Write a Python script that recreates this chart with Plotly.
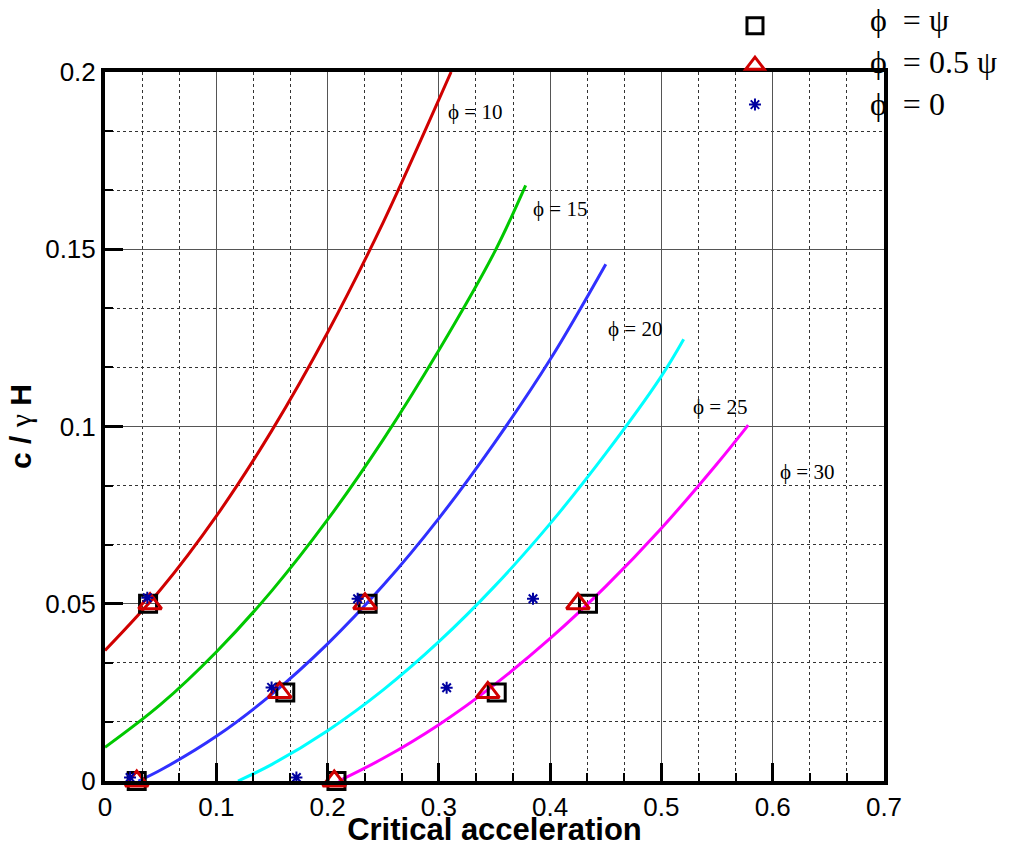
import plotly.graph_objects as go

# ---- curve data (critical acceleration vs c/(gamma H)) ----
red_x = [0.0, 0.05, 0.1, 0.15, 0.2, 0.25, 0.3, 0.311]
red_y = [0.0368, 0.0540, 0.0747, 0.0989, 0.1265, 0.1576, 0.1922, 0.2]

green_x = [0.0, 0.05, 0.1, 0.15, 0.2, 0.25, 0.3, 0.35, 0.378]
green_y = [0.0095, 0.0216, 0.0364, 0.0537, 0.0737, 0.0963, 0.1215, 0.1492, 0.168]

blue_x = [0.03, 0.05, 0.1, 0.15, 0.2, 0.25, 0.3, 0.35, 0.4, 0.45]
blue_y = [0.0, 0.0031, 0.0126, 0.0245, 0.0387, 0.0552, 0.0741, 0.0954, 0.1189, 0.1458]

cyan_x = [0.1195, 0.15, 0.2, 0.25, 0.3, 0.35, 0.4, 0.45, 0.5, 0.52]
cyan_y = [0.0, 0.0047, 0.0142, 0.0257, 0.0393, 0.0549, 0.0726, 0.0924, 0.1142, 0.1246]

mag_x = [0.21, 0.25, 0.3, 0.35, 0.4, 0.45, 0.5, 0.55, 0.578]
mag_y = [0.0, 0.0064, 0.0159, 0.0272, 0.0402, 0.0549, 0.0713, 0.0895, 0.1004]

# ---- marker data ----
sq_x = [0.0387, 0.236, 0.162, 0.0285, 0.208, 0.352, 0.434]
sq_y = [0.05, 0.05, 0.025, 0.0, 0.0, 0.025, 0.05]

tri_x = [0.0405, 0.2336, 0.157, 0.0285, 0.206, 0.344, 0.425]
tri_y = [0.05, 0.05, 0.025, 0.0, 0.0, 0.025, 0.05]

ast_x = [0.038, 0.227, 0.1497, 0.0225, 0.172, 0.307, 0.3846]
ast_y = [0.0517, 0.0514, 0.0264, 0.001, 0.001, 0.0263, 0.0514]

# ---- curve labels ----
lab_text = ["ϕ = 10", "ϕ = 15", "ϕ = 20", "ϕ = 25", "ϕ = 30"]
lab_x = [0.306, 0.3826, 0.45, 0.527, 0.605]
lab_y = [0.1887, 0.1613, 0.1274, 0.1056, 0.0873]

# ---- legend texts ----
leg_text = ["ϕ\u2002= ψ", "ϕ\u2002= 0.5 ψ", "ϕ\u2002= 0"]
leg_y = [1.0733, 1.0141, 0.9549]

curves = [
    (red_x, red_y, "#d00000"),
    (green_x, green_y, "#00c800"),
    (blue_x, blue_y, "#3030ff"),
    (cyan_x, cyan_y, "#00ffff"),
    (mag_x, mag_y, "#ff00ff"),
]

fig = go.Figure()
for cx, cy, col in curves:
    fig.add_trace(go.Scatter(x=cx, y=cy, mode="lines", line=dict(color=col, width=3, shape="spline"),
                             showlegend=False, hoverinfo="skip"))

fig.add_trace(go.Scatter(x=sq_x, y=sq_y, mode="markers", name="\u00a0", cliponaxis=False,
                         marker=dict(symbol="square-open", size=17, color="black", line=dict(width=3, color="black"))))
fig.add_trace(go.Scatter(x=tri_x, y=tri_y, mode="markers", name="\u00a0", cliponaxis=False,
                         marker=dict(symbol="triangle-up-open", size=20, color="#d00000", line=dict(width=3, color="#d00000"))))
fig.add_trace(go.Scatter(x=ast_x, y=ast_y, mode="markers", name="\u00a0", cliponaxis=False,
                         marker=dict(symbol="asterisk-open", size=10, color="#0000a0", line=dict(width=2, color="#0000a0"))))

for t, lx, ly in zip(lab_text, lab_x, lab_y):
    fig.add_annotation(x=lx, y=ly, text=t, showarrow=False, xanchor="left", yanchor="middle",
                       font=dict(family="Liberation Serif, Times New Roman, serif", size=21, color="black"))

for t, ly in zip(leg_text, leg_y):
    fig.add_annotation(x=0.9795, y=ly, xref="paper", yref="paper", text=t, showarrow=False,
                       xanchor="left", yanchor="middle",
                       font=dict(family="Liberation Serif, Times New Roman, serif", size=32, color="black"))

axis_common = dict(
    showline=True, linewidth=4, linecolor="black", mirror=True,
    ticks="inside", ticklen=18, tickwidth=3, tickcolor="black",
    showgrid=True, gridcolor="#555555", gridwidth=1,
    zeroline=False,
    tickfont=dict(family="Liberation Sans, Arial, sans-serif", size=26, color="black"),
)

fig.update_xaxes(range=[0, 0.7], dtick=0.1, tick0=0,
                 minor=dict(dtick=0.1 / 3, ticks="inside", ticklen=8, tickwidth=1.5, tickcolor="black",
                            showgrid=True, gridcolor="#333333", griddash="dot", gridwidth=1),
                 title=dict(text="<b>Critical acceleration</b>", standoff=9,
                            font=dict(family="Liberation Sans, Arial, sans-serif", size=31, color="black")),
                 **axis_common)
fig.update_yaxes(range=[0, 0.2], dtick=0.05, tick0=0,
                 minor=dict(dtick=0.05 / 3, ticks="inside", ticklen=8, tickwidth=1.5, tickcolor="black",
                            showgrid=True, gridcolor="#333333", griddash="dot", gridwidth=1),
                 title=dict(text="<b>c / </b><span style='font-family:Liberation Serif'>γ</span><b> H</b>", standoff=6,
                            font=dict(family="Liberation Sans, Arial, sans-serif", size=30, color="black")),
                 **axis_common)

fig.update_layout(
    width=1010, height=847,
    margin=dict(l=105, r=126, t=72, b=66, autoexpand=False),
    paper_bgcolor="white", plot_bgcolor="white",
    legend=dict(x=0.8087, y=1.1, xanchor="left", yanchor="top", bgcolor="rgba(0,0,0,0)",
                font=dict(family="Liberation Serif, Times New Roman, serif", size=28, color="black"),
                tracegroupgap=0),
    showlegend=True,
)

fig.write_html("out.html")
